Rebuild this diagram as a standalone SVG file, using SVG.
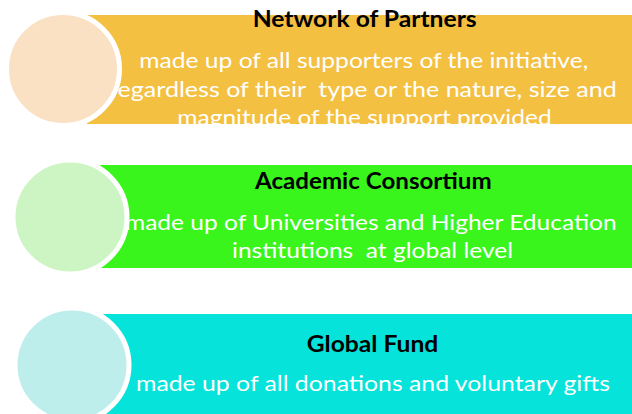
<svg xmlns="http://www.w3.org/2000/svg" width="632" height="414" viewBox="0 0 632 414">
  <style>
    .title { font-family: Lato, "Open Sans", "Liberation Sans", sans-serif; font-weight: bold; font-size: 22px; fill: #000000; }
    .body { font-family: Lato, "Open Sans", "Liberation Sans", sans-serif; font-size: 22px; fill: #FFFFFF; }
    .ring { stroke: #FFFFFF; stroke-width: 5; }
  </style>
  <defs>
    <clipPath id="clip1"><rect x="87" y="15" width="545" height="109"/></clipPath>
    <clipPath id="clip2"><rect x="100" y="165" width="532" height="103"/></clipPath>
    <clipPath id="clip3"><rect x="103" y="314" width="529" height="100"/></clipPath>
  </defs>
  <rect x="0" y="0" width="632" height="414" fill="#FFFFFF"/>

  <g id="node-network-of-partners">
    <rect x="87" y="15" width="545" height="109" fill="#F4C042"/>
    <text class="title" x="252.7" y="27.3" textLength="224" lengthAdjust="spacingAndGlyphs">Network of Partners</text>
    <g clip-path="url(#clip1)">
      <text class="body" x="139.3" y="68.3" textLength="449" lengthAdjust="spacingAndGlyphs">made up of all supporters of the initiative,</text>
      <text class="body" x="109" y="96.7" textLength="507.7" lengthAdjust="spacingAndGlyphs" xml:space="preserve">regardless of their  type or the nature, size and</text>
      <text class="body" x="177.3" y="125" textLength="374.4" lengthAdjust="spacingAndGlyphs">magnitude of the support provided</text>
    </g>
    <circle class="ring" cx="63" cy="69" r="56.5" fill="#FAE1C3"/>
  </g>

  <g id="node-academic-consortium">
    <rect x="100" y="165" width="532" height="103" fill="#3AF51B"/>
    <text class="title" x="255" y="189" textLength="236.7" lengthAdjust="spacingAndGlyphs">Academic Consortium</text>
    <g clip-path="url(#clip2)">
      <text class="body" x="125" y="230" textLength="491.7" lengthAdjust="spacingAndGlyphs">made up of Universities and Higher Education</text>
      <text class="body" x="232" y="258" textLength="281" lengthAdjust="spacingAndGlyphs" xml:space="preserve">institutions  at global level</text>
    </g>
    <circle class="ring" cx="70" cy="217" r="57" fill="#CDF5C4"/>
  </g>

  <g id="node-global-fund">
    <rect x="103" y="314" width="529" height="100" fill="#05E3DA"/>
    <text class="title" x="306.7" y="351.7" textLength="131.6" lengthAdjust="spacingAndGlyphs">Global Fund</text>
    <g clip-path="url(#clip3)">
      <text class="body" x="136" y="390.7" textLength="474" lengthAdjust="spacingAndGlyphs">made up of all donations and voluntary gifts</text>
    </g>
    <circle class="ring" cx="72" cy="365" r="57" fill="#BDEEEC"/>
  </g>

  <g id="connectors"/>
</svg>
